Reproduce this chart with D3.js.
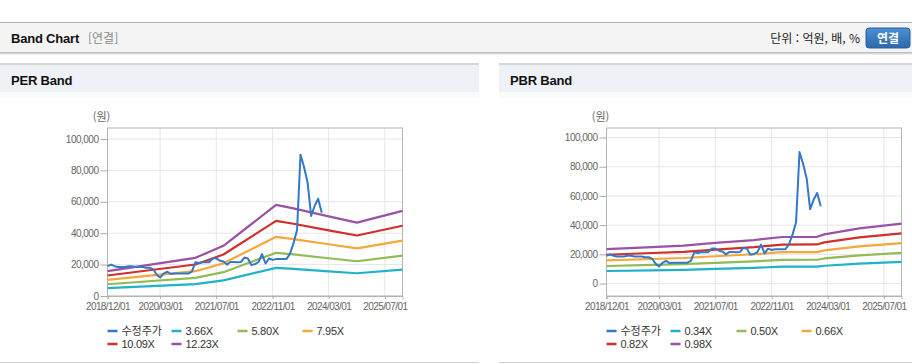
<!DOCTYPE html>
<html lang="ko">
<head>
<meta charset="utf-8">
<script src="https://cdn.jsdelivr.net/npm/d3@7"></script>
<style>
  body { margin: 0; background: #fff; }
  svg { display: block; font-family: "Liberation Sans", Arial, "Noto Sans CJK KR", sans-serif; }
</style>
</head>
<body>
<div id="page"></div>
<script>
//------------------ data ------------------//
// 수정주가, monthly from 2018/12
var priceStart = "2018/12/01";
var priceValues = [
  19000,20000,19000,18500,18500,18500,19000,19000,18500,18500,18500,18000,
  18000,17000,13500,11800,14300,15500,14000,14300,14300,14300,14300,14300,
  15500,21500,21000,21500,21500,21500,24000,24000,22500,22000,20000,21700,
  21700,21500,21700,24500,23900,19800,20300,21500,26700,20700,23900,23000,
  23500,23500,23500,23500,27000,33500,42000,90000,82000,72000,51000,57500,
  62000,53000
];

// PER bands
var perBandDates = ["2018/12/01","2021/01/01","2021/09/01","2022/12/01","2023/05/01","2024/03/01","2024/11/01","2025/12/01"];
var perBand366  = [5000, 7600, 9950, 17900, 17250, 15700, 14500, 16800];
var perBand580  = [7490, 11520, 15180, 27510, 26460, 24040, 22150, 25700];
var perBand795  = [10270, 15800, 20800, 37700, 36270, 32960, 30360, 35230];
var perBand1009 = [13040, 20050, 26400, 47850, 46040, 41830, 38530, 44720];
var perBand1223 = [15800, 24300, 32000, 58000, 55800, 50700, 46700, 54200];
var perLabels = ["수정주가", "3.66X", "5.80X", "7.95X", "10.09X", "12.23X"];

// PBR bands
var pbrBandDates = ["2018/12/01","2020/01/01","2020/10/01","2021/07/01","2022/06/01","2023/02/01","2023/12/01","2024/02/01","2024/12/01","2025/12/01"];
var pbrBand034 = [8600, 9100, 9450, 10100, 10800, 11550, 11600, 12200, 13650, 14800];
var pbrBand050 = [12040, 12760, 13270, 14180, 15200, 16280, 16330, 17190, 19290, 20970];
var pbrBand066 = [15890, 16840, 17510, 18720, 20070, 21480, 21550, 22700, 25460, 27680];
var pbrBand082 = [19750, 20920, 21760, 23260, 24930, 26690, 26780, 28200, 31630, 34390];
var pbrBand098 = [23600, 25000, 26000, 27800, 29800, 31900, 32000, 33700, 37800, 41100];
var pbrLabels = ["수정주가", "0.34X", "0.50X", "0.66X", "0.82X", "0.98X"];

// axes
var xDomain = ["2018/12/01", "2025/12/01"];
var xTickLabels = ["2018/12/01","2020/03/01","2021/07/01","2022/11/01","2024/03/01","2025/07/01"];
var yTicks = [0, 20000, 40000, 60000, 80000, 100000];

var colors = ["#3578c8", "#1fb3c5", "#90bb55", "#f4a73a", "#d0302c", "#9a52a5"];

//------------------ setup svg ------------------//
var W = 912, H = 364;
var parse = d3.timeParse("%Y/%m/%d");
var fmt = d3.timeFormat("%Y/%m/%d");

var svg = d3.select("#page").append("svg")
  .attr("width", W)
  .attr("height", H);

//------------------ page header ------------------//
var defs = svg.append("defs");
var bg = defs.append("linearGradient").attr("id", "btn").attr("x1", 0).attr("y1", 0).attr("x2", 0).attr("y2", 1);
bg.append("stop").attr("offset", "0%").attr("stop-color", "#4d8fd4");
bg.append("stop").attr("offset", "100%").attr("stop-color", "#2d68ab");

svg.append("rect").attr("x", 0).attr("y", 22).attr("width", W).attr("height", 1).attr("fill", "#b4b4b4");
svg.append("rect").attr("x", 0).attr("y", 23).attr("width", W).attr("height", 29).attr("fill", "#f4f4f4");
svg.append("rect").attr("x", 0).attr("y", 52).attr("width", W).attr("height", 1).attr("fill", "#bcbcbc");
svg.append("rect").attr("x", 0).attr("y", 53).attr("width", W).attr("height", 1).attr("fill", "#d9d9d9");
svg.append("rect").attr("x", 0).attr("y", 54).attr("width", W).attr("height", 1).attr("fill", "#eeeeee");

svg.append("text").attr("x", 11).attr("y", 43)
  .attr("font-size", "13px").attr("font-weight", "bold").attr("fill", "#111")
  .style("letter-spacing", "-0.2px")
  .text("Band Chart");
svg.append("text").attr("x", 88).attr("y", 43)
  .attr("font-size", "12px").attr("fill", "#8a8a8a")
  .attr("font-family", "'Noto Sans CJK KR', sans-serif")
  .text("[연결]");
svg.append("text").attr("x", 860).attr("y", 43)
  .attr("text-anchor", "end")
  .attr("font-size", "12px").attr("fill", "#222")
  .attr("font-family", "'Noto Sans CJK KR', sans-serif")
  .text("단위 : 억원, 배, %");
svg.append("rect").attr("x", 866).attr("y", 28).attr("width", 44).attr("height", 20).attr("rx", 3)
  .attr("fill", "url(#btn)").attr("stroke", "#2a5f9c");
svg.append("text").attr("x", 888).attr("y", 42.5)
  .attr("text-anchor", "middle")
  .attr("font-size", "12px").attr("font-weight", "bold").attr("fill", "#fff")
  .attr("font-family", "'Noto Sans CJK KR', sans-serif")
  .text("연결");

//------------------ chart panels ------------------//
function drawPanel(cfg) {
  // panel header
  svg.append("rect").attr("x", cfg.px).attr("y", 63).attr("width", cfg.pw).attr("height", 2).attr("fill", "#d6d6d6");
  svg.append("rect").attr("x", cfg.px).attr("y", 65).attr("width", cfg.pw).attr("height", 27).attr("fill", "#eef2f7");
  svg.append("rect").attr("x", cfg.px).attr("y", 92).attr("width", cfg.pw).attr("height", 6).attr("fill", "#fafbfc");
  svg.append("rect").attr("x", cfg.px).attr("y", 362).attr("width", cfg.pw).attr("height", 1).attr("fill", "#d2d2d2");
  svg.append("text").attr("x", cfg.px + 11).attr("y", 85)
    .attr("font-size", "13px").attr("font-weight", "bold").attr("fill", "#111")
    .style("letter-spacing", "-0.2px")
    .text(cfg.title);

  var left = cfg.left, top = 128, width = 295, height = 168;
  var g = svg.append("g").attr("transform", "translate(" + left + "," + top + ")");

  var x = d3.scaleTime()
    .domain(xDomain.map(parse))
    .range([0, width]);
  var y = d3.scaleLinear()
    .domain(cfg.yDomain)
    .range([height, 0]);

  // grid
  g.append("g").selectAll("line.h").data(yTicks).enter().append("line")
    .attr("x1", 0).attr("x2", width)
    .attr("y1", function(d) { return y(d); }).attr("y2", function(d) { return y(d); })
    .attr("stroke", "#e6e6e6");
  g.append("g").selectAll("line.v").data(xTickLabels.slice(1)).enter().append("line")
    .attr("x1", function(d) { return x(parse(d)); }).attr("x2", function(d) { return x(parse(d)); })
    .attr("y1", 0).attr("y2", height)
    .attr("stroke", "#e6e6e6");

  // frame
  g.append("rect").attr("x", 0).attr("y", 0).attr("width", width).attr("height", height)
    .attr("fill", "none").attr("stroke", "#b4b4b4");

  // y axis
  var yAxis = d3.axisLeft(y).tickValues(yTicks).tickSize(7).tickPadding(2)
    .tickFormat(d3.format(","));
  var ya = g.append("g").call(yAxis);
  ya.select(".domain").remove();
  ya.selectAll("line").attr("stroke", "#aaa");
  ya.selectAll("text").attr("fill", "#666").attr("font-size", "10px")
    .style("letter-spacing", "-0.5px")
    .attr("font-family", "'Liberation Sans', Arial, sans-serif");

  // x axis
  var xAxis = d3.axisBottom(x).tickValues(xTickLabels.map(parse)).tickSize(3).tickPadding(4)
    .tickFormat(fmt);
  var xa = g.append("g").attr("transform", "translate(0," + height + ")").call(xAxis);
  xa.select(".domain").attr("stroke", "#b4b4b4");
  xa.selectAll("line").attr("stroke", "#aaa");
  xa.selectAll("text").attr("fill", "#666").attr("font-size", "10px")
    .style("letter-spacing", "-0.6px")
    .attr("font-family", "'Liberation Sans', Arial, sans-serif");

  // unit label
  g.append("text").attr("x", -6).attr("y", -7)
    .attr("text-anchor", "middle")
    .attr("font-size", "11px").attr("fill", "#666")
    .attr("font-family", "'Noto Sans CJK KR', sans-serif")
    .text("(원)");

  // lines
  var line = d3.line()
    .x(function(d) { return x(d.date); })
    .y(function(d) { return y(d.value); });

  var plot = g.append("g");
  cfg.bands.forEach(function(band, i) {
    var pts = band.map(function(v, j) { return { date: parse(cfg.bandDates[j]), value: v }; });
    plot.append("path").datum(pts)
      .attr("d", line)
      .attr("fill", "none")
      .attr("stroke", colors[i + 1])
      .attr("stroke-width", 2.2)
      .attr("stroke-linejoin", "round");
  });
  var p0 = parse(priceStart);
  var pricePts = priceValues.map(function(v, j) { return { date: d3.timeMonth.offset(p0, j), value: v }; });
  plot.append("path").datum(pricePts)
    .attr("d", line)
    .attr("fill", "none")
    .attr("stroke", colors[0])
    .attr("stroke-width", 2)
    .attr("stroke-linejoin", "round");

  // legend
  var colX = [0, 64, 130, 195];
  var leg = svg.append("g").attr("transform", "translate(" + left + ",0)");
  cfg.labels.forEach(function(lab, i) {
    var cx = colX[i % 4], cy = i < 4 ? 331 : 344;
    leg.append("line").attr("x1", cx).attr("x2", cx + 10).attr("y1", cy).attr("y2", cy)
      .attr("stroke", colors[i]).attr("stroke-width", 2.5);
    leg.append("text").attr("x", cx + 14).attr("y", cy + 4)
      .attr("font-size", "11px").attr("fill", "#333")
      .style("letter-spacing", i === 0 ? "0px" : "-0.3px")
      .attr("font-family", i === 0 ? "'Noto Sans CJK KR', sans-serif" : "'Liberation Sans', Arial, sans-serif")
      .text(lab);
  });
}

drawPanel({
  title: "PER Band", px: 0, pw: 479, left: 107.5,
  yDomain: [0, 107000],
  bandDates: perBandDates,
  bands: [perBand366, perBand580, perBand795, perBand1009, perBand1223],
  labels: perLabels
});

drawPanel({
  title: "PBR Band", px: 499, pw: 413, left: 606.5,
  yDomain: [-8500, 106500],
  bandDates: pbrBandDates,
  bands: [pbrBand034, pbrBand050, pbrBand066, pbrBand082, pbrBand098],
  labels: pbrLabels
});
</script>
</body>
</html>
